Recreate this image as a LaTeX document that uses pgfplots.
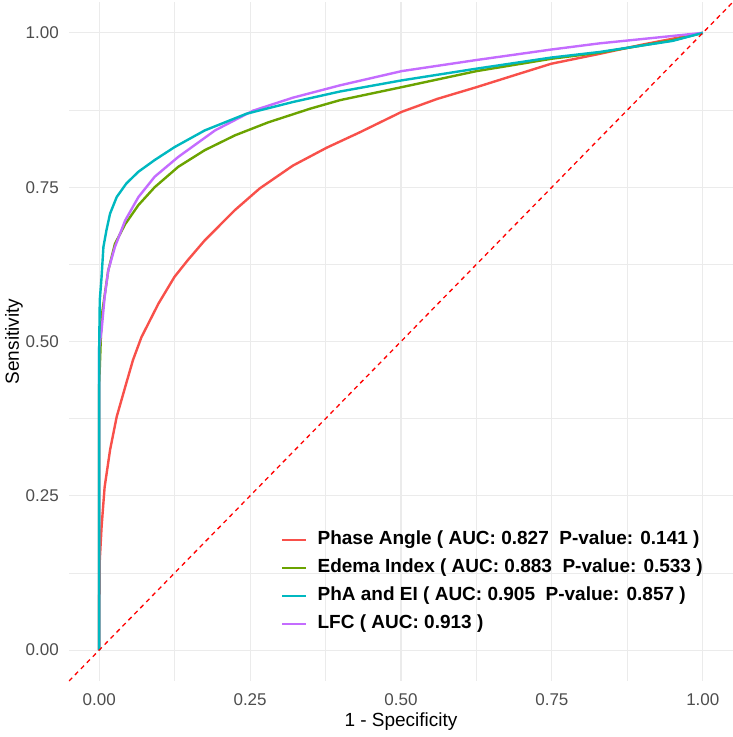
\documentclass[border=0pt]{standalone}
\usepackage{fontspec}
\setmainfont{Liberation Sans}
\usepackage{pgfplots}
\pgfplotsset{compat=1.18}
\definecolor{cRed}{HTML}{F8504A}
\definecolor{cGreen}{HTML}{6BA300}
\definecolor{cCyan}{HTML}{00B8C0}
\definecolor{cPurple}{HTML}{C46CFF}
\definecolor{gridc}{HTML}{EBEBEB}
\definecolor{tickc}{HTML}{4D4D4D}
\begin{document}
\begin{tikzpicture}
\begin{axis}[
  scale only axis, width=664pt, height=679pt,
  xmin=-0.05, xmax=1.05, ymin=-0.05, ymax=1.05,
  axis line style={draw=none},
  major tick length=0pt, minor tick length=0pt,
  xtick={0,0.25,0.5,0.75,1}, ytick={0,0.25,0.5,0.75,1},
  xticklabels={0.00,0.25,0.50,0.75,1.00},
  yticklabels={0.00,0.25,0.50,0.75,1.00},
  minor tick num=1,
  grid=both,
  major grid style={color=gridc, line width=1.1pt},
  minor grid style={color=gridc, line width=0.7pt},
  tick label style={font=\fontsize{17}{20}\selectfont, color=tickc},
  xticklabel style={anchor=north, inner sep=0pt, yshift=-12pt},
  yticklabel style={anchor=east, inner sep=0pt, xshift=-10pt},
  xlabel={1 - Specificity},
  ylabel={Sensitivity},
  label style={font=\fontsize{19}{22}\selectfont},
  xlabel style={at={(axis description cs:0.5,-0.0471)}, anchor=north, inner sep=0pt},
  ylabel style={at={(axis description cs:-0.0693,0.5)}, anchor=south, inner sep=0pt},
  legend cell align=left,
  legend image code/.code={\draw[#1, line width=2.4pt] (0pt,0pt) -- (24pt,0pt);},
  legend style={at={(axis description cs:0.3148,0.2245)}, anchor=north west,
    draw=none, fill=none, font=\bfseries\fontsize{19}{22}\selectfont,
    nodes={inner sep=0pt, text height=14pt, text depth=4pt},
    row sep=10pt, column sep=10pt},
  clip=true,
]
% Phase Angle
\addplot[cRed, line width=2.4pt, line join=round, forget plot] coordinates {
(0,0) (0,0.09) (0.001,0.092) (0.001,0.146) (0.004,0.200) (0.009,0.264) (0.018,0.324) (0.029,0.378) (0.043,0.426) (0.056,0.470) (0.070,0.507) (0.098,0.561) (0.125,0.605) (0.147,0.632) (0.175,0.664) (0.225,0.713) (0.266,0.748) (0.321,0.785) (0.377,0.814) (0.432,0.839) (0.501,0.872) (0.56,0.893) (0.625,0.912) (0.69,0.932) (0.749,0.950) (0.829,0.966) (0.9,0.981) (1,1)};
% Edema Index
\addplot[cGreen, line width=2.4pt, line join=round, forget plot] coordinates {
(0,0) (0,0.43) (0.004,0.540) (0.015,0.615) (0.026,0.658) (0.043,0.690) (0.065,0.721) (0.092,0.750) (0.131,0.783) (0.175,0.810) (0.225,0.834) (0.28,0.855) (0.349,0.877) (0.399,0.891) (0.501,0.912) (0.625,0.938) (0.749,0.958) (0.829,0.968) (0.95,0.988) (1,1)};
% LFC
\addplot[cPurple, line width=2.4pt, line join=round, forget plot] coordinates {
(0,0) (0,0.49) (0.004,0.518) (0.009,0.572) (0.015,0.615) (0.026,0.653) (0.043,0.696) (0.065,0.734) (0.092,0.767) (0.131,0.799) (0.192,0.842) (0.255,0.874) (0.321,0.895) (0.399,0.915) (0.501,0.938) (0.625,0.956) (0.749,0.973) (0.829,0.983) (0.95,0.995) (1,1)};
% PhA and EI
\addplot[cCyan, line width=2.4pt, line join=round, forget plot] coordinates {
(0,0) (0,0.345) (0,0.491) (0.001,0.567) (0.004,0.605) (0.007,0.653) (0.012,0.680) (0.018,0.707) (0.029,0.734) (0.045,0.756) (0.065,0.775) (0.092,0.794) (0.125,0.815) (0.175,0.842) (0.244,0.869) (0.321,0.888) (0.399,0.905) (0.501,0.923) (0.625,0.942) (0.749,0.960) (0.829,0.969) (0.95,0.987) (1,1)};
% diagonal
\addplot[red, line width=1.3pt, dash pattern=on 4.5pt off 4pt, forget plot] coordinates {(-0.05,-0.05) (1.05,1.05)};
\addlegendimage{cRed}
\addlegendentry{Phase Angle ( AUC: 0.827~ P-value: 0.141 )}
\addlegendimage{cGreen}
\addlegendentry{Edema Index ( AUC: 0.883~ P-value: 0.533 )}
\addlegendimage{cCyan}
\addlegendentry{PhA and EI ( AUC: 0.905~ P-value: 0.857 )}
\addlegendimage{cPurple}
\addlegendentry{LFC ( AUC: 0.913 )}
\end{axis}
\pgfresetboundingbox
\useasboundingbox ([xshift=-69pt,yshift=-56pt]current axis.south west) rectangle ([yshift=2pt]current axis.north east);
\end{tikzpicture}
\end{document}
